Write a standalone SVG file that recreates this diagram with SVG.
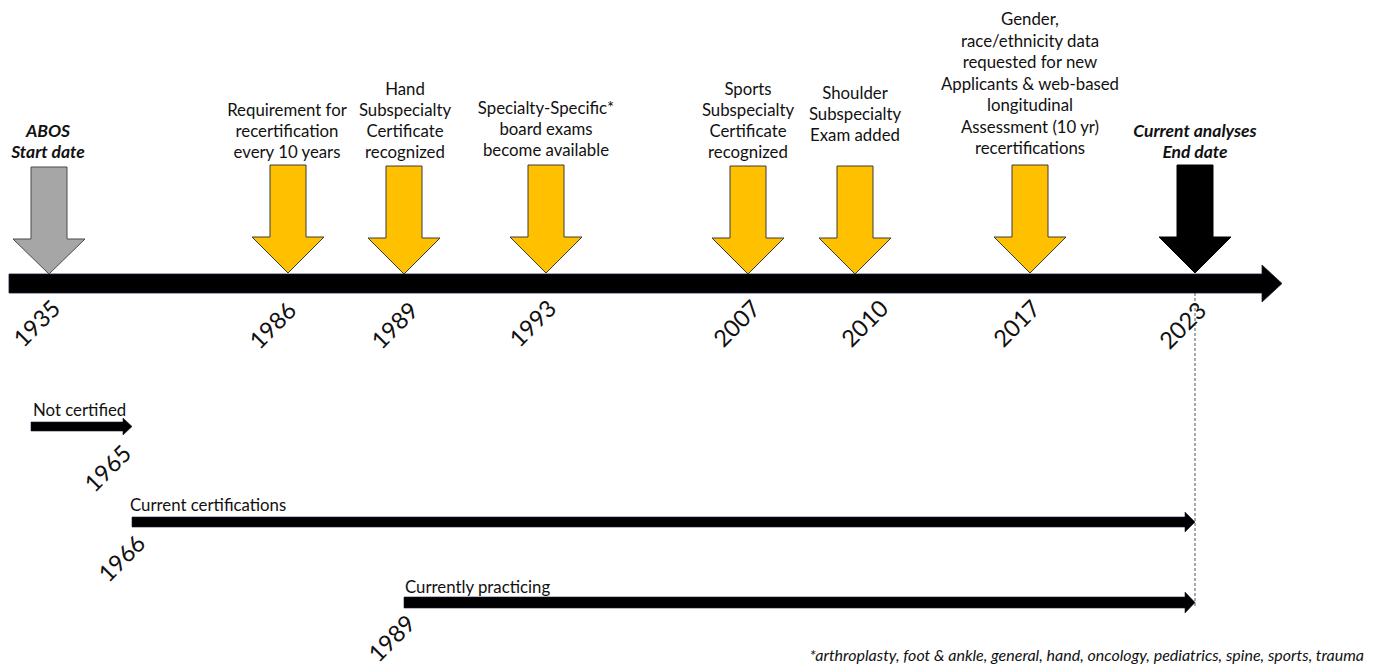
<svg xmlns="http://www.w3.org/2000/svg" width="1376" height="665" viewBox="0 0 1376 665">
<style>
  .t { font-family: Lato, "Noto Sans", sans-serif; font-size: 16.8px; fill: #111; text-anchor: middle; }
  .bi { font-family: Lato, "Noto Sans", sans-serif; font-size: 17.5px; font-weight: bold; font-style: italic; fill: #111; text-anchor: middle; }
  .yr { font-family: Lato, "Noto Sans", sans-serif; font-size: 23.5px; fill: #111; text-anchor: end; }
  .lbl { font-family: Lato, "Noto Sans", sans-serif; font-size: 16.8px; fill: #111; }
  .foot { font-family: Lato, "Noto Sans", sans-serif; font-size: 16px; font-style: italic; fill: #111; }
  .yel { fill: #FFC000; stroke: #3a3a3a; stroke-width: 1; }
  .gry { fill: #A6A6A6; stroke: #4a4a4a; stroke-width: 1; }
  .blk { fill: #000; stroke: #000; stroke-width: 1; }
</style>
<defs>
  <path id="down" d="M-18,0 H18 V72 H36 L0,108 L-36,72 H-18 Z"/>
</defs>
<rect width="1376" height="665" fill="#fff"/>

<g id="connectors">
  <path id="timeline" d="M9,274 H1262 V265 L1282,283.5 L1262,302 V293 H9 Z" fill="#000" stroke="#1a1a3a" stroke-width="0.8"/>
  <line x1="1195" y1="293" x2="1195" y2="606" stroke="#555" stroke-width="1" stroke-dasharray="3,2"/>
  <path id="not-certified-bar" d="M31,422 H123 V418 L132,426.5 L123,435 V431 H31 Z" fill="#000" stroke="#1a1a3a" stroke-width="0.6"/>
  <path id="current-cert-bar" d="M132,517 H1185 V512 L1195,522 L1185,532 V527 H132 Z" fill="#000" stroke="#1a1a3a" stroke-width="0.6"/>
  <path id="practicing-bar" d="M404,597 H1185 V592 L1195,602.5 L1185,613 V608 H404 Z" fill="#000" stroke="#1a1a3a" stroke-width="0.6"/>
</g>

<g id="n1935">
  <path class="gry" d="M31,167 H67 V239 H85 L49,274 L13,239 H31 Z"/>
  <text class="bi" x="48" y="137">ABOS</text>
  <text class="bi" x="48" y="158">Start date</text>
  <text class="yr" transform="translate(62,310) rotate(-45)">1935</text>
</g>

<g id="n1986">
  <use href="#down" class="yel" x="288" y="165"/>
  <text class="t" x="287" y="116">Requirement for</text>
  <text class="t" x="287" y="137">recertification</text>
  <text class="t" x="287" y="158">every 10 years</text>
  <text class="yr" transform="translate(298,312) rotate(-45)">1986</text>
</g>

<g id="n1989">
  <use href="#down" class="yel" x="404" y="166"/>
  <text class="t" x="405" y="95">Hand</text>
  <text class="t" x="405" y="116">Subspecialty</text>
  <text class="t" x="405" y="137">Certificate</text>
  <text class="t" x="405" y="158">recognized</text>
  <text class="yr" transform="translate(420,312) rotate(-45)">1989</text>
</g>

<g id="n1993">
  <use href="#down" class="yel" x="546" y="165"/>
  <text class="t" x="546" y="114">Specialty-Specific*</text>
  <text class="t" x="546" y="135">board exams</text>
  <text class="t" x="546" y="156">become available</text>
  <text class="yr" transform="translate(558,310) rotate(-45)">1993</text>
</g>

<g id="n2007">
  <use href="#down" class="yel" x="748" y="166"/>
  <text class="t" x="748" y="95">Sports</text>
  <text class="t" x="748" y="116">Subspecialty</text>
  <text class="t" x="748" y="137">Certificate</text>
  <text class="t" x="748" y="158">recognized</text>
  <text class="yr" transform="translate(762,310) rotate(-45)">2007</text>
</g>

<g id="n2010">
  <use href="#down" class="yel" x="855" y="166"/>
  <text class="t" x="855" y="99">Shoulder</text>
  <text class="t" x="855" y="120">Subspecialty</text>
  <text class="t" x="855" y="141">Exam added</text>
  <text class="yr" transform="translate(890,310) rotate(-45)">2010</text>
</g>

<g id="n2017">
  <use href="#down" class="yel" x="1030" y="165"/>
  <text class="t" x="1030" y="25">Gender,</text>
  <text class="t" x="1030" y="46.5">race/ethnicity data</text>
  <text class="t" x="1030" y="68">requested for new</text>
  <text class="t" x="1030" y="89.5">Applicants &amp; web-based</text>
  <text class="t" x="1030" y="111">longitudinal</text>
  <text class="t" x="1030" y="132.5">Assessment (10 yr)</text>
  <text class="t" x="1030" y="154">recertifications</text>
  <text class="yr" transform="translate(1042,310) rotate(-45)">2017</text>
</g>

<g id="n2023">
  <use href="#down" class="blk" x="1195" y="165"/>
  <text class="bi" x="1195" y="137">Current analyses</text>
  <text class="bi" x="1195" y="158">End date</text>
  <text class="yr" transform="translate(1208,312) rotate(-45)">2023</text>
</g>

<g id="not-certified">
  <text class="lbl" x="33" y="416">Not certified</text>
  <text class="yr" transform="translate(133,455) rotate(-45)">1965</text>
</g>

<g id="current-certifications">
  <text class="lbl" x="130" y="511">Current certifications</text>
  <text class="yr" transform="translate(147,545) rotate(-45)">1966</text>
</g>

<g id="currently-practicing">
  <text class="lbl" x="405" y="593">Currently practicing</text>
  <text class="yr" transform="translate(417,625) rotate(-45)">1989</text>
</g>

<g id="footnote">
  <text class="foot" x="1364" y="661" text-anchor="end">*arthroplasty, foot &amp; ankle, general, hand, oncology, pediatrics, spine, sports, trauma</text>
</g>
</svg>
